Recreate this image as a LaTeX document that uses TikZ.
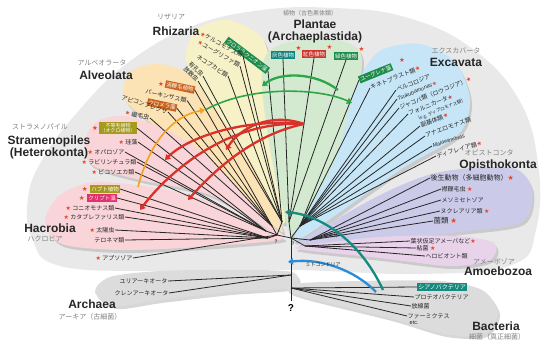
\documentclass[tikz,border=0pt]{standalone}
\usepackage{fontspec}
\setmainfont{Liberation Sans}
\newfontfamily\jp{Noto Sans CJK JP}
\newfontfamily\sym{DejaVu Sans}
\usepackage{tikz}
\usetikzlibrary{arrows.meta,positioning,calc,shadows}
\usepackage{xcolor}
\definecolor{starred}{HTML}{E8452C}
\definecolor{eugray}{HTML}{E9E9E9}
\definecolor{rhiz}{HTML}{F6F1C6}
\definecolor{alve}{HTML}{FCE3B6}
\definecolor{stram}{HTML}{F9D4D8}
\definecolor{plant}{HTML}{D3EAD0}
\definecolor{excav}{HTML}{C6E6F7}
\definecolor{opis}{HTML}{CBCBE9}
\definecolor{amoe}{HTML}{E8D3EB}
\definecolor{prok}{HTML}{DCDCDC}
\definecolor{chlgreen}{HTML}{1E8C4A}
\definecolor{glaucteal}{HTML}{12827E}
\definecolor{redalga}{HTML}{D0342C}
\definecolor{dinobrown}{HTML}{C8641E}
\definecolor{ochro}{HTML}{A39A1E}
\definecolor{crypto}{HTML}{E0306E}
\definecolor{cyano}{HTML}{168A7E}
\definecolor{mito}{HTML}{2B8CD6}
\definecolor{secred}{HTML}{D8322A}
\definecolor{secgreen}{HTML}{2FA54A}
\definecolor{secorange}{HTML}{F2A21E}
\newcommand\rstar{{\sym\color{starred}★}}

\begin{document}
\begin{tikzpicture}[x=1pt, y=-1pt,
  lbl/.style={font=\jp\fontsize{6}{7}\selectfont, text=black!85, inner sep=0.5pt},
  kana/.style={font=\jp\fontsize{7}{7}\selectfont, text=black!50, inner sep=0.5pt},
  grp/.style={font=\bfseries\fontsize{12}{12}\selectfont, text=black!85, align=center, inner sep=0.5pt},
  tag/.style={font=\jp\fontsize{5.5}{6}\selectfont, text=white, fill=#1, inner sep=1.2pt, align=center},
  rs/.style={font=\sym\fontsize{6.5}{7}\selectfont, text=starred, inner sep=0pt},
  branch/.style={line width=0.8pt, black!85},
  petal/.style={fill=#1, drop shadow={shadow xshift=2pt, shadow yshift=-3pt, fill=black!35, opacity=0.45}},
  transfer/.style={line width=2.3pt, #1, -{Triangle[length=5pt, width=6.5pt]}},
]
\useasboundingbox (0,0) rectangle (541,342);

% domains
\fill[eugray] plot[smooth cycle, tension=0.7] coordinates {(291,270) (160,271) (60,266) (32,238) (28,198) (42,160) (75,115) (125,65) (190,27) (262,10) (335,8) (405,17) (470,47) (518,98) (538,163) (536,230) (512,265) (420,274)};
\fill[petal=prok] plot[smooth cycle] coordinates {(95,292) (110,277) (160,271) (230,270) (292,272) (292,287) (230,292) (160,300) (115,306)};
\fill[petal=prok] plot[smooth cycle] coordinates {(295,284) (360,281) (440,281) (482,290) (498,312) (485,334) (445,334) (390,318) (295,294)};

% supergroups
\fill[petal=alve] plot[smooth cycle] coordinates {(276,228) (225,180) (160,130) (125,100) (130,72) (160,64) (200,80) (240,130) (280,222)};
\fill[petal=rhiz] plot[smooth cycle] coordinates {(281,222) (250,160) (205,95) (186,60) (196,30) (228,20) (262,38) (272,80) (285,200)};
\fill[petal=plant] plot[smooth cycle] coordinates {(289,232) (272,160) (262,85) (268,52) (300,40) (345,42) (362,62) (345,150) (294,232)};
\fill[petal=excav] plot[smooth cycle] coordinates {(296,232) (335,160) (355,90) (378,52) (420,44) (455,62) (470,100) (458,135) (400,170) (305,236)};
\fill[petal=stram] plot[smooth cycle] coordinates {(276,234) (210,195) (140,180) (92,165) (85,140) (100,120) (135,118) (200,150) (270,225)};
\fill[petal=stram] plot[smooth cycle] coordinates {(279,240) (200,247) (120,250) (62,244) (45,222) (60,195) (100,182) (190,195) (272,232)};
\fill[petal=opis] plot[smooth cycle] coordinates {(302,240) (380,195) (440,172) (512,168) (532,190) (522,222) (460,232) (380,240) (305,244)};
\fill[petal=amoe] plot[smooth cycle] coordinates {(302,246) (380,237) (455,236) (494,243) (490,260) (450,266) (380,258) (304,250)};

% group names
\node[kana] (rhk) at (171,17) {リザリア};
\node[grp] (rhz) at (176,31) {Rhizaria};
\node[kana, font=\jp\fontsize{6}{6}\selectfont] (plk) at (310,13) {植物（古色素体類）};
\node[grp] (pla) at (315,31) {Plantae\\(Archaeplastida)};
\node[kana] (exk) at (456,51) {エクスカバータ};
\node[grp] (exc) at (456,62) {Excavata};
\node[kana] (alk) at (102,63) {アルベオラータ};
\node[grp] (alv) at (106,75) {Alveolata};
\node[kana] (stk) at (40,127) {ストラメノパイル};
\node[grp] (str) at (49,147) {Stramenopiles\\(Heterokonta)};
\node[grp] (hac) at (50,228) {Hacrobia};
\node[kana] (hak) at (45,239) {ハクロビア};
\node[kana] (opk) at (489,153) {オピストコンタ};
\node[grp] (opi) at (498,165) {Opisthokonta};
\node[kana] (amk) at (494,262) {アメーボゾア};
\node[grp] (amo) at (498,271) {Amoebozoa};
\node[grp] (arc) at (92,304) {Archaea};
\node[kana] (ark) at (90,317) {アーキア（古細菌）};
\node[grp] (bac) at (496,326) {Bacteria};
\node[kana] (bak) at (497,337) {細菌（真正細菌）};

% hubs of the tree
\coordinate (root) at (291,238);
\coordinate (lhub) at (277,235);
\coordinate (hRh) at (282,222);
\coordinate (hAl) at (272,226);
\coordinate (hSt) at (266,231);
\coordinate (hHc) at (268,238);
\coordinate (hPl) at (289,222);
\coordinate (hEx) at (300,226);
\coordinate (hOp) at (310,240);
\coordinate (hAm) at (305,246);
\coordinate (hAr) at (291,275);
\coordinate (hBa) at (291,288);

% Rhizaria
\node[tag=chlgreen, rotate=-37, anchor=east] (rzbox) at (268,71) {クロララクニオン藻};
\node[lbl, rotate=-28, anchor=east] (rz1) at (243,56) {\rstar ケルコモナス類};
\node[lbl, rotate=-30, anchor=east] (rz2) at (240,66) {\rstar ユーグリファ類};
\node[lbl, rotate=-33, anchor=east] (rz3) at (228,76) {ネコブカビ類};
\node[lbl, rotate=-45, anchor=east] (rz4) at (203,76) {有孔虫};
\node[lbl, rotate=-45, anchor=east] (rz5) at (198,81) {放散虫};

% Plantae
\node[tag=glaucteal] (pl1) at (283,55) {灰色植物};
\node[tag=redalga] (pl2) at (314,54) {紅色植物};
\node[tag=chlgreen] (pl3) at (346,56) {緑色植物};
\node[rs, anchor=south west] (pl1s) at (pl1.north east) {★};
\node[rs, anchor=south west] (pl2s) at (pl2.north east) {★};
\node[rs, anchor=south west] (pl3s) at (pl3.north east) {★};

% Excavata
\node[tag=chlgreen, rotate=22, anchor=west] (exbox) at (359,80) {ユーグレナ藻};
\node[rs] (exbs) at (402,60) {★};
\node[lbl, rotate=22, anchor=west] (ex1) at (370,88) {キネトプラスト類\rstar};
\node[lbl, rotate=22, anchor=west] (ex2) at (396,90) {ベルコロジア};
\node[lbl, rotate=22, anchor=west, font=\jp\fontsize{5.5}{6}\selectfont] (ex3) at (397,99) {{\rmfamily\itshape Tsukubamonas}\rstar};
\node[lbl, rotate=22, anchor=west] (ex4) at (399,108) {ジャコバ類（ロウコジア）\rstar};
\node[lbl, rotate=22, anchor=west] (ex5) at (408,114) {フォルニカータ\rstar};
\node[lbl, rotate=22, anchor=west, font=\jp\fontsize{4.5}{5}\selectfont] (ex6) at (418,119) {(e.g. ディプロモナス類)};
\node[lbl, rotate=22, anchor=west] (ex7) at (420,126) {副基体類\rstar};
\node[lbl, rotate=20, anchor=west] (ex8) at (425,136) {アナエロモナス類};
\node[lbl, rotate=18, anchor=west, font=\jp\fontsize{5.5}{6}\selectfont] (ex9) at (432,146) {{\rmfamily\itshape Malawimonas}};
\node[lbl, rotate=16, anchor=west] (ex10) at (436,156) {ディフレイア類\rstar};

% Alveolata
\node[tag=dinobrown, rotate=-12] (albox1) at (180,87) {渦鞭毛植物};
\node[rs, left=1pt of albox1] (al1s) {★};
\node[lbl, rotate=-12] (al1) at (166,96) {パーキンサス類};
\node[tag=dinobrown, rotate=-12] (albox2) at (162,105) {クロメラ藻};
\node[lbl, rotate=-18, anchor=east] (al2) at (168,112) {アピコンプレクサ};
\node[lbl, rotate=-12, anchor=east] (al3) at (150,118) {\rstar\ 繊毛虫};

% Stramenopiles
\node[tag=ochro, font=\jp\fontsize{5}{5.5}\selectfont] (stbox) at (118,128) {不等毛植物\\（オクロ植物）};
\node[rs, left=1pt of stbox] (stbs) {★};
\node[lbl, anchor=east] (st1) at (138,142) {\rstar\ 珪藻};
\node[lbl, anchor=east] (st2) at (125,152) {\rstar\ オパロゾア};
\node[lbl, anchor=east] (st3) at (137,162) {\rstar\ ラビリンチュラ類};
\node[lbl, anchor=east] (st4) at (135,172) {\rstar\ ビコソエカ類};

% Hacrobia
\node[tag=ochro] (hcbox1) at (105,189) {ハプト植物};
\node[rs, left=2pt of hcbox1] (hc1s) {★};
\node[tag=crypto] (hcbox2) at (102,198) {クリプト藻};
\node[rs, left=2pt of hcbox2] (hc2s) {★};
\node[lbl, anchor=east] (hc3) at (115,208) {\rstar\ コニオモナス類};
\node[lbl, anchor=east] (hc4) at (125,217) {\rstar\ カタブレファリス類};
\node[lbl, anchor=east] (hc5) at (115,230) {\rstar\ 太陽虫};
\node[lbl, anchor=east] (hc6) at (125,240) {テロネマ類};
\node[lbl, anchor=east] (hc7) at (133,258) {\rstar\ アプソゾア};

% Opisthokonta
\node[lbl, anchor=west, font=\jp\fontsize{7}{8}\selectfont] (op1) at (430,178) {後生動物（多細胞動物）\rstar};
\node[lbl, anchor=west] (op2) at (441,189) {襟鞭毛虫\ \rstar};
\node[lbl, anchor=west] (op3) at (441,200) {メソミセトゾア};
\node[lbl, anchor=west] (op4) at (440,211) {ヌクレアリア類\ \rstar};
\node[lbl, anchor=west, font=\jp\fontsize{7.5}{8}\selectfont] (op5) at (433,221) {菌類\ \rstar};

% Amoebozoa
\node[lbl, anchor=west] (am1) at (410,241) {葉状仮足アメーバなど\rstar};
\node[lbl, anchor=west] (am2) at (416,248) {粘菌\ \rstar};
\node[lbl, anchor=west] (am3) at (425,256) {ヘロビオント類};

% prokaryotes
\node[lbl, anchor=east] (ar1) at (168,281) {ユリアーキオータ};
\node[lbl, anchor=east] (ar2) at (169,293) {クレンアーキオータ};
\node[tag=cyano, anchor=west, font=\jp\fontsize{6}{6}\selectfont] (ba1) at (417,287) {シアノバクテリア};
\node[lbl, anchor=west] (ba2) at (414,297) {プロテオバクテリア};
\node[lbl, anchor=west] (ba3) at (411,306) {放線菌};
\node[lbl, anchor=west] (ba4) at (407,316) {ファーミクテス};
\node[lbl, anchor=north west, font=\fontsize{5.5}{6}\selectfont] (ba5) at (409,320) {etc.};

% tree
\foreach \n in {rzbox,rz1,rz2,rz3,rz4,rz5} \draw[branch] (hRh) -- (\n.east);
\foreach \n in {albox1,al1,albox2,al2,al3} \draw[branch] (hAl) -- (\n.east);
\foreach \n in {stbox,st1,st2,st3,st4} \draw[branch] (hSt) -- (\n.east);
\foreach \n in {hcbox1,hcbox2,hc3,hc4,hc5,hc6} \draw[branch] (hHc) -- (\n.east);
\draw[branch] (lhub) -- (hc7.east);
\foreach \n in {pl1,pl2,pl3} \draw[branch] (hPl) -- (\n.south);
\foreach \n in {exbox,ex1,ex2,ex3,ex4,ex5,ex7,ex8,ex9,ex10} \draw[branch] (hEx) -- (\n.west);
\foreach \n in {op1,op2,op3,op4,op5} \draw[branch] (hOp) -- (\n.west);
\foreach \n in {am1,am2,am3} \draw[branch] (hAm) -- (\n.west);
\foreach \n in {hRh,hAl,hSt,hHc} \draw[branch] (lhub) -- (\n);
\foreach \n in {lhub,hPl,hEx,hOp,hAm} \draw[branch] (root) -- (\n);
\foreach \n in {ar1,ar2} \draw[branch] (hAr) -- (\n.east);
\foreach \n in {ba1,ba2,ba3,ba4} \draw[branch] (hBa) -- (\n.west);
\node[font=\bfseries\fontsize{10}{10}\selectfont] (qm) at (291,308) {?};
\node[font=\fontsize{5}{5}\selectfont] (qm1) at (276,242) {?};
\node[font=\fontsize{5}{5}\selectfont] (qm2) at (293,244) {?};
\draw[branch] (root) -- (qm.north);

% endosymbiosis
\coordinate (rdS) at (304,124);
\coordinate (rdA) at (226,150);
\coordinate (rdB) at (188,200);
\coordinate (rdC) at (140,210);
\coordinate (rdD) at (165,160);
\draw[transfer=secred] (rdS) .. controls (270,112) and (240,128) .. (rdA);
\draw[transfer=secred] (rdS) .. controls (250,135) and (210,175) .. (rdB);
\draw[transfer=secred] (rdS) .. controls (230,120) and (170,170) .. (rdC);
\draw[transfer=secred] (rdS) .. controls (250,118) and (190,135) .. (rdD);
\coordinate (gnS) at (338,90);
\coordinate (gnA) at (262,86);
\coordinate (gnB) at (205,110);
\coordinate (gnC) at (352,103);
\draw[transfer=secgreen] (gnS) .. controls (315,72) and (280,72) .. (gnA);
\draw[transfer=secgreen, line width=1.6pt] (gnB) .. controls (250,85) and (320,88) .. (gnC);
\coordinate (orS) at (138,187);
\draw[transfer=secorange, line width=1.6pt] (orS) .. controls (150,140) and (175,115) .. (gnB);
\coordinate (cyS) at (383,290);
\coordinate (cyE) at (285,212);
\draw[transfer=cyano] (cyS) .. controls (360,240) and (320,215) .. (cyE);
\coordinate (mtS) at (376,292);
\coordinate (mtE) at (288,262);
\draw[transfer=mito] (mtS) .. controls (355,270) and (320,258) .. (mtE);
\node[lbl, font=\jp\fontsize{5}{5}\selectfont] (plast) at (331,236) {色素体};
\node[lbl, font=\jp\fontsize{5}{5}\selectfont] (mitol) at (323,265) {ミトコンドリア};
\end{tikzpicture}
\end{document}
